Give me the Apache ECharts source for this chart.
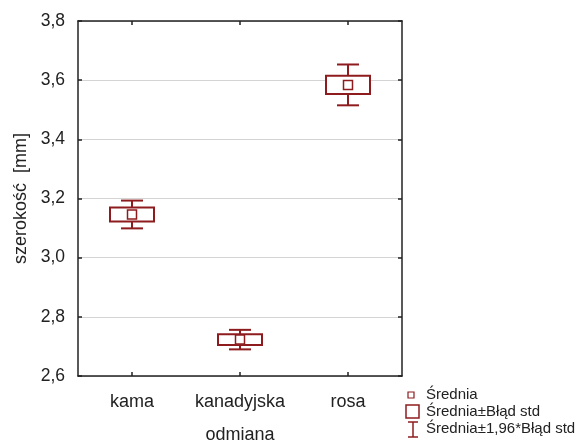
<!DOCTYPE html>
<html>
<head>
<meta charset="utf-8">
<script src="https://cdn.jsdelivr.net/npm/echarts@6/dist/echarts.min.js"></script>
<style>html,body{margin:0;padding:0;background:#fff;}#c{width:582px;height:442px;}</style>
</head>
<body>
<div id="c"></div>
<script>
var categories = ['kama', 'kanadyjska', 'rosa'];
var means = [3.146, 2.723, 3.584];
var stdErr = [0.024, 0.0185, 0.031];
var ci196 = [0.047, 0.033, 0.069];
var yTicks = [2.6, 2.8, 3.0, 3.2, 3.4, 3.6, 3.8];
var legendLabels = ['Średnia', 'Średnia±Błąd std', 'Średnia±1,96*Błąd std'];

var RED = '#8e1c1f';
var chart = echarts.init(document.getElementById('c'));
var data = categories.map(function (c, i) { return [i, means[i], stdErr[i], ci196[i]]; });
var font = 'Liberation Sans, Arial, sans-serif';

function fmt(v) { return v.toFixed(1).replace('.', ','); }

var option = {
  animation: false,
  backgroundColor: '#fff',
  grid: { left: 78, right: 180, top: 21, bottom: 66, containLabel: false, outerBoundsMode: 'none' },
  xAxis: [{
    type: 'category', data: categories, boundaryGap: true,
    name: 'odmiana', nameLocation: 'middle', nameGap: 50,
    nameTextStyle: { fontSize: 18, color: '#222', fontFamily: font },
    axisLine: { show: true, lineStyle: { color: '#222', width: 1.5 } },
    axisTick: { show: true, inside: true, alignWithLabel: true, length: 4, lineStyle: { color: '#222', width: 1.5 } },
    axisLabel: { fontSize: 18, color: '#222', margin: 17, fontFamily: font, interval: 0, hideOverlap: false }
  }, {
    type: 'category', data: categories, boundaryGap: true, position: 'top',
    axisLine: { show: true, lineStyle: { color: '#222', width: 1.5 } },
    axisTick: { show: true, inside: true, alignWithLabel: true, length: 4, lineStyle: { color: '#222', width: 1.5 } },
    axisLabel: { show: false }
  }],
  yAxis: [{
    type: 'value', min: 2.6, max: 3.8, interval: 0.2,
    name: 'szerokość  [mm]', nameLocation: 'middle', nameGap: 48, nameRotate: 90,
    nameTextStyle: { fontSize: 18, color: '#222', fontFamily: font },
    axisLine: { show: true, lineStyle: { color: '#222', width: 1.5 } },
    axisTick: { show: true, inside: true, length: 4, lineStyle: { color: '#222', width: 1.5 } },
    axisLabel: { fontSize: 17.5, color: '#222', margin: 13, fontFamily: font,
      formatter: function (v) { return fmt(v); },
      customValues: yTicks },
    splitLine: { show: true, lineStyle: { color: '#d4d4d4', width: 1 } }
  }, {
    type: 'value', min: 2.6, max: 3.8, interval: 0.2, position: 'right',
    axisLine: { show: true, lineStyle: { color: '#222', width: 1.5 } },
    axisTick: { show: true, inside: true, length: 4, lineStyle: { color: '#222', width: 1.5 } },
    axisLabel: { show: false },
    splitLine: { show: false }
  }],
  series: [{
    type: 'custom',
    xAxisIndex: 0, yAxisIndex: 0,
    data: data,
    encode: { x: 0, y: 1 },
    renderItem: function (params, api) {
      var i = api.value(0), m = api.value(1), se = api.value(2), ci = api.value(3);
      var c = api.coord([i, m]);
      var pTop = api.coord([i, m + ci])[1], pBot = api.coord([i, m - ci])[1];
      var bTop = api.coord([i, m + se])[1], bBot = api.coord([i, m - se])[1];
      var x = c[0], bw = 22, cw = 11, ms = 4.5;
      var st = { stroke: RED, lineWidth: 2, fill: null };
      return {
        type: 'group',
        children: [
          { type: 'line', shape: { x1: x, y1: pTop, x2: x, y2: bTop }, style: st },
          { type: 'line', shape: { x1: x, y1: bBot, x2: x, y2: pBot }, style: st },
          { type: 'line', shape: { x1: x - cw, y1: pTop, x2: x + cw, y2: pTop }, style: st },
          { type: 'line', shape: { x1: x - cw, y1: pBot, x2: x + cw, y2: pBot }, style: st },
          { type: 'rect', shape: { x: x - bw, y: bTop, width: 2 * bw, height: bBot - bTop }, style: { stroke: RED, lineWidth: 2, fill: '#fff' } },
          { type: 'rect', shape: { x: x - ms, y: c[1] - ms, width: 2 * ms, height: 2 * ms }, style: { stroke: RED, lineWidth: 1.5, fill: '#fff' } }
        ]
      };
    }
  }],
  graphic: [
    { type: 'rect', shape: { x: 408, y: 392, width: 6, height: 6 }, style: { stroke: RED, lineWidth: 1.2, fill: '#fff' } },
    { type: 'text', x: 426, y: 395, style: { text: legendLabels[0], fontSize: 15, fill: '#222', fontFamily: font, verticalAlign: 'middle' } },
    { type: 'rect', shape: { x: 406, y: 405, width: 13, height: 13 }, style: { stroke: RED, lineWidth: 1.5, fill: '#fff' } },
    { type: 'text', x: 426, y: 411.5, style: { text: legendLabels[1], fontSize: 15, fill: '#222', fontFamily: font, verticalAlign: 'middle' } },
    { type: 'line', shape: { x1: 408, y1: 422, x2: 418, y2: 422 }, style: { stroke: RED, lineWidth: 1.5 } },
    { type: 'line', shape: { x1: 413, y1: 422, x2: 413, y2: 437 }, style: { stroke: RED, lineWidth: 1.5 } },
    { type: 'line', shape: { x1: 408, y1: 437, x2: 418, y2: 437 }, style: { stroke: RED, lineWidth: 1.5 } },
    { type: 'text', x: 426, y: 428.5, style: { text: legendLabels[2], fontSize: 15, fill: '#222', fontFamily: font, verticalAlign: 'middle' } }
  ]
};
chart.setOption(option);
</script>
</body>
</html>
